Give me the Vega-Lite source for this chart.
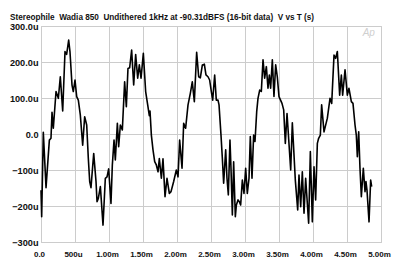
{
  "$schema": "https://vega.github.io/schema/vega-lite/v6.json",
  "width": 340,
  "height": 216,
  "autosize": {"type": "none"},
  "padding": {"left": 41, "top": 26, "right": 19, "bottom": 25},
  "background": "white",
  "title": {
    "text": "Stereophile\u00a0 Wadia 850\u00a0 Undithered 1kHz at -90.31dBFS (16-bit data)\u00a0 V vs T (s)",
    "anchor": "start",
    "frame": "group",
    "dx": -31,
    "offset": -6.5,
    "baseline": "alphabetic",
    "font": "Liberation Sans",
    "fontSize": 8.2,
    "fontWeight": "bold",
    "color": "#111111"
  },
  "config": {
    "view": {"stroke": "#c4c4c4", "strokeWidth": 1},
    "axis": {
      "grid": true,
      "gridColor": "#cccccc",
      "gridOpacity": 1,
      "gridWidth": 1,
      "domain": false,
      "ticks": false,
      "title": null,
      "labelColor": "#111111",
      "labelFontWeight": "bold",
      "labelOverlap": false,
      "labelFont": "Liberation Sans"
    }
  },
  "data": {
    "values": [
      {"t": 0.000, "v": -156}, {"t": 0.010, "v": -230}, {"t": 0.034, "v": 5}, {"t": 0.074, "v": -149},
      {"t": 0.123, "v": -17}, {"t": 0.147, "v": -12}, {"t": 0.162, "v": 60}, {"t": 0.181, "v": 16},
      {"t": 0.221, "v": 118}, {"t": 0.255, "v": 99}, {"t": 0.284, "v": 159}, {"t": 0.319, "v": 64},
      {"t": 0.353, "v": 229}, {"t": 0.377, "v": 221}, {"t": 0.407, "v": 261}, {"t": 0.426, "v": 229},
      {"t": 0.456, "v": 136}, {"t": 0.475, "v": 118}, {"t": 0.500, "v": 150}, {"t": 0.525, "v": 104},
      {"t": 0.549, "v": 94}, {"t": 0.578, "v": 53}, {"t": 0.613, "v": -31}, {"t": 0.642, "v": 48},
      {"t": 0.672, "v": 25}, {"t": 0.696, "v": -68}, {"t": 0.716, "v": -132}, {"t": 0.735, "v": -149},
      {"t": 0.775, "v": -54}, {"t": 0.809, "v": -132}, {"t": 0.824, "v": -188}, {"t": 0.843, "v": -179},
      {"t": 0.873, "v": -146}, {"t": 0.912, "v": -253}, {"t": 0.946, "v": -123}, {"t": 0.971, "v": -119},
      {"t": 0.995, "v": -97}, {"t": 1.029, "v": -193}, {"t": 1.049, "v": -86}, {"t": 1.074, "v": -17},
      {"t": 1.093, "v": -72}, {"t": 1.123, "v": 30}, {"t": 1.142, "v": -35}, {"t": 1.167, "v": 25},
      {"t": 1.196, "v": 11}, {"t": 1.230, "v": 145}, {"t": 1.255, "v": 76}, {"t": 1.279, "v": 182},
      {"t": 1.304, "v": 184}, {"t": 1.333, "v": 233}, {"t": 1.363, "v": 136}, {"t": 1.392, "v": 221},
      {"t": 1.422, "v": 155}, {"t": 1.446, "v": 192}, {"t": 1.471, "v": 155}, {"t": 1.505, "v": 224},
      {"t": 1.539, "v": 118}, {"t": 1.569, "v": 81}, {"t": 1.593, "v": 51}, {"t": 1.603, "v": 64},
      {"t": 1.623, "v": -3}, {"t": 1.647, "v": -44}, {"t": 1.672, "v": -77}, {"t": 1.696, "v": -86},
      {"t": 1.721, "v": -105}, {"t": 1.740, "v": -68}, {"t": 1.770, "v": -123}, {"t": 1.794, "v": -69},
      {"t": 1.824, "v": -174}, {"t": 1.853, "v": -123}, {"t": 1.887, "v": -165}, {"t": 1.912, "v": -160},
      {"t": 1.951, "v": -132}, {"t": 1.990, "v": -100}, {"t": 2.015, "v": -119}, {"t": 2.039, "v": -17},
      {"t": 2.074, "v": -95}, {"t": 2.098, "v": 30}, {"t": 2.127, "v": 16}, {"t": 2.162, "v": 81},
      {"t": 2.196, "v": 113}, {"t": 2.225, "v": 145}, {"t": 2.255, "v": 90}, {"t": 2.289, "v": 227},
      {"t": 2.319, "v": 159}, {"t": 2.343, "v": 156}, {"t": 2.373, "v": 192}, {"t": 2.402, "v": 194},
      {"t": 2.426, "v": 164}, {"t": 2.456, "v": 159}, {"t": 2.480, "v": 150}, {"t": 2.505, "v": 118},
      {"t": 2.525, "v": 94}, {"t": 2.554, "v": 164}, {"t": 2.578, "v": 94}, {"t": 2.603, "v": 94},
      {"t": 2.618, "v": 81}, {"t": 2.647, "v": -3}, {"t": 2.667, "v": -68}, {"t": 2.686, "v": -137},
      {"t": 2.716, "v": -44}, {"t": 2.735, "v": -123}, {"t": 2.755, "v": -169}, {"t": 2.779, "v": -17},
      {"t": 2.794, "v": -95}, {"t": 2.814, "v": -225}, {"t": 2.833, "v": -77}, {"t": 2.858, "v": -230},
      {"t": 2.873, "v": -197}, {"t": 2.897, "v": -183}, {"t": 2.917, "v": -188}, {"t": 2.936, "v": -197},
      {"t": 2.961, "v": -128}, {"t": 2.985, "v": -165}, {"t": 3.010, "v": -95}, {"t": 3.034, "v": -165},
      {"t": 3.059, "v": -123}, {"t": 3.078, "v": -7}, {"t": 3.103, "v": -123}, {"t": 3.127, "v": -3},
      {"t": 3.147, "v": -21}, {"t": 3.172, "v": 62}, {"t": 3.191, "v": 99}, {"t": 3.216, "v": 122},
      {"t": 3.240, "v": 118}, {"t": 3.265, "v": 206}, {"t": 3.289, "v": 155}, {"t": 3.314, "v": 187},
      {"t": 3.338, "v": 127}, {"t": 3.358, "v": 164}, {"t": 3.377, "v": 127}, {"t": 3.402, "v": 206},
      {"t": 3.426, "v": 104}, {"t": 3.451, "v": 192}, {"t": 3.475, "v": 159}, {"t": 3.500, "v": 104},
      {"t": 3.544, "v": 85}, {"t": 3.569, "v": 67}, {"t": 3.593, "v": -26}, {"t": 3.618, "v": 57},
      {"t": 3.672, "v": -100}, {"t": 3.696, "v": 31}, {"t": 3.740, "v": -128}, {"t": 3.775, "v": -211},
      {"t": 3.794, "v": -114}, {"t": 3.819, "v": -202}, {"t": 3.843, "v": -105}, {"t": 3.868, "v": -220},
      {"t": 3.892, "v": -123}, {"t": 3.936, "v": -248}, {"t": 3.961, "v": -49}, {"t": 3.990, "v": -244},
      {"t": 4.015, "v": -91}, {"t": 4.039, "v": -183}, {"t": 4.064, "v": -26}, {"t": 4.083, "v": -12},
      {"t": 4.108, "v": -3}, {"t": 4.127, "v": 81}, {"t": 4.162, "v": 6}, {"t": 4.211, "v": 44},
      {"t": 4.250, "v": 99}, {"t": 4.275, "v": 85}, {"t": 4.309, "v": 219}, {"t": 4.333, "v": 210},
      {"t": 4.358, "v": 229}, {"t": 4.392, "v": 108}, {"t": 4.417, "v": 164}, {"t": 4.436, "v": 108},
      {"t": 4.471, "v": 178}, {"t": 4.505, "v": 108}, {"t": 4.529, "v": 127}, {"t": 4.564, "v": 90},
      {"t": 4.588, "v": 85}, {"t": 4.618, "v": 25}, {"t": 4.637, "v": -3}, {"t": 4.652, "v": -63},
      {"t": 4.672, "v": 6}, {"t": 4.691, "v": -95}, {"t": 4.711, "v": -174}, {"t": 4.740, "v": -95},
      {"t": 4.765, "v": -160}, {"t": 4.779, "v": -132}, {"t": 4.794, "v": -156}, {"t": 4.824, "v": -244},
      {"t": 4.848, "v": -128}, {"t": 4.863, "v": -146}
    ]
  },
  "layer": [
    {
      "mark": {"type": "line", "color": "#000000", "strokeWidth": 1.6, "strokeJoin": "round"},
      "encoding": {
        "x": {
          "field": "t",
          "type": "quantitative",
          "scale": {"domain": [0, 5], "nice": false, "zero": false},
          "axis": {
            "values": [0, 0.5, 1, 1.5, 2, 2.5, 3, 3.5, 4, 4.5, 5],
            "tickCount": 11,
            "labelExpr": "datum.value == 0 ? '0.0' : (datum.value < 1 ? format(datum.value * 1000, 'd') + 'u' : format(datum.value, '.2f') + 'm')",
            "labelFontSize": 8,
            "labelBaseline": "alphabetic",
            "labelPadding": 14.7,
            "labelOffset": -2,
            "labelFlush": false,
            "labelOverlap": false,
            "labelAlign": "center"
          }
        },
        "y": {
          "field": "v",
          "type": "quantitative",
          "scale": {"domain": [-300, 300], "nice": false, "zero": false},
          "axis": {
            "values": [-300, -200, -100, 0, 100, 200, 300],
            "tickCount": 7,
            "labelExpr": "datum.value == 0 ? '0.0' : (datum.value > 0 ? format(datum.value, '.1f') + 'u' : format(datum.value, 'd') + 'u')",
            "labelFontSize": 9.2,
            "labelPadding": 3,
            "labelBaseline": "middle",
            "labelFlush": false,
            "labelOverlap": false
          }
        }
      }
    },
    {
      "data": {"values": [{"logo": "Ap"}]},
      "mark": {"type": "text", "font": "Liberation Sans", "fontStyle": "italic", "fontSize": 10, "color": "#cfcfcf", "align": "center", "baseline": "middle"},
      "encoding": {
        "x": {"datum": 4.82, "type": "quantitative"},
        "y": {"datum": 280, "type": "quantitative"},
        "text": {"field": "logo"}
      }
    }
  ]
}
